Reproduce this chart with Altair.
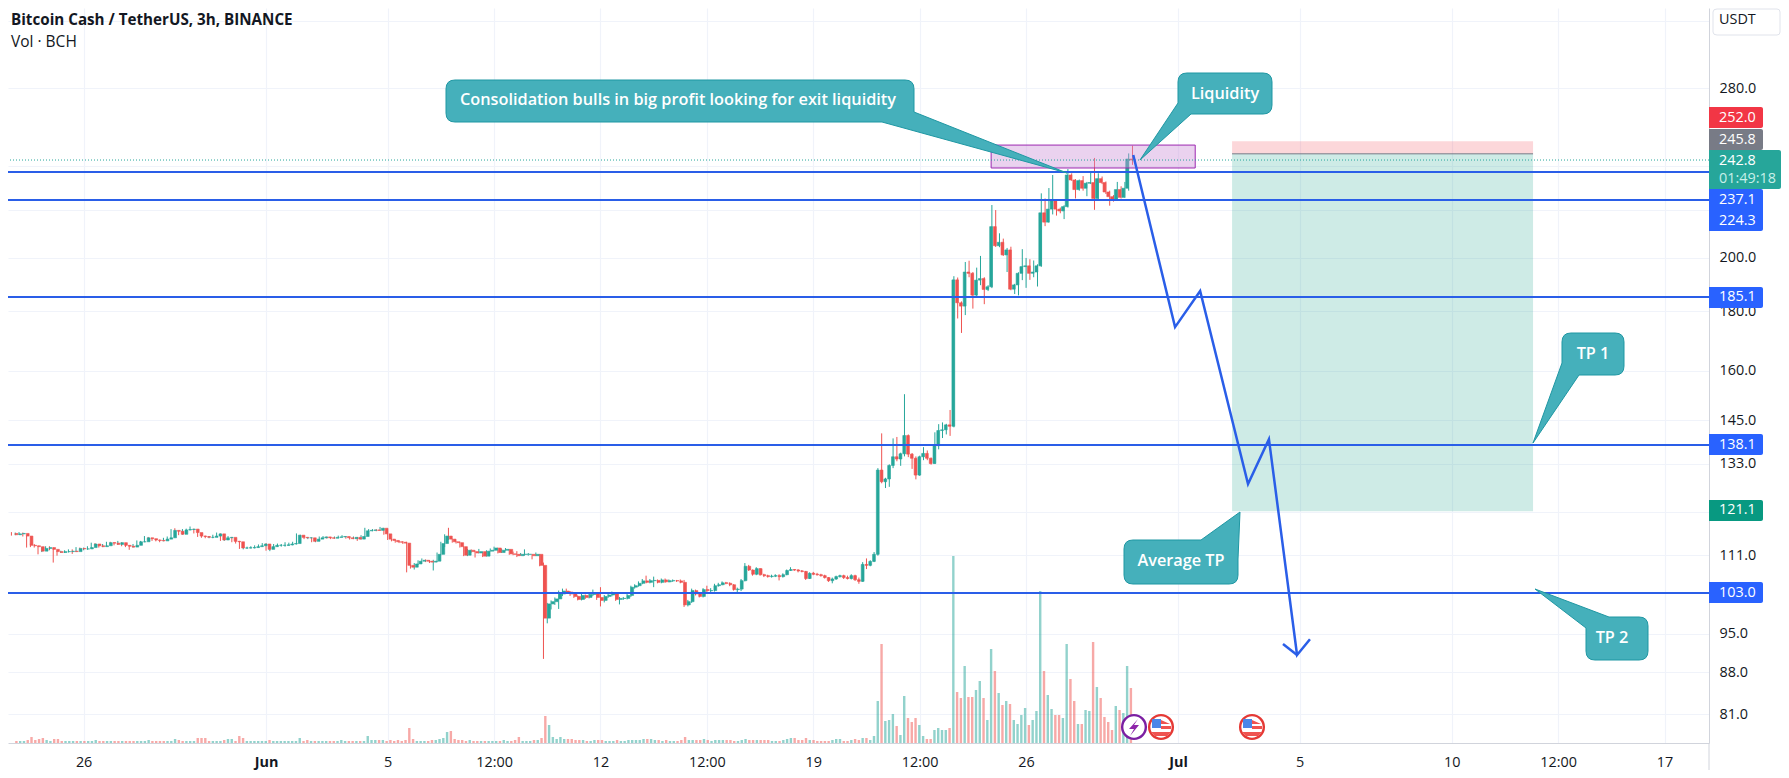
import altair as alt
import pandas as pd

FONT = "Open Sans"
UP, DOWN = "#26a69a", "#ef5350"
BLUE = "#2962ff"
LINE = "#2a5ee8"

first_bar = -67  # bars counted in 3h steps from 1 Jun 00:00 UTC
closes = [
115.6,115.8,115.9,115.3,113.2,113.1,112.9,111.9,112.5,112.7,112.3,111.8,111.6,111.8,111.8,111.9,111.8,112.5,112.4,112.4,
112.7,113.5,113.1,112.9,113.1,113.8,113.7,113.4,113.8,113.2,113.0,112.8,113.2,114.0,114.0,114.9,114.7,114.4,114.3,114.2,
114.6,114.9,116.6,116.4,115.7,116.7,116.8,116.9,116.1,115.3,115.2,115.0,115.0,115.3,115.8,114.4,114.9,115.0,114.1,114.0,
112.6,112.6,112.65,112.7,112.9,113.1,113.5,112.3,112.9,113.2,113.2,113.2,113.3,113.5,113.6,115.5,115.0,114.9,114.9,114.1,
114.6,114.9,115.1,114.9,114.8,115.0,115.1,115.2,114.9,114.7,115.0,114.6,115.2,116.5,116.6,116.7,116.6,117.1,115.8,114.6,
114.3,114.0,113.9,113.7,108.8,108.4,109.1,109.7,109.9,109.7,109.5,109.7,111.2,113.6,115.3,114.6,114.0,113.8,112.9,111.0,
112.1,111.8,111.5,111.8,110.8,111.9,112.1,112.6,111.6,112.1,112.3,111.3,111.2,110.9,111.2,111.2,111.2,110.9,111.2,108.8,
98.0,100.8,101.25,101.8,102.8,103.4,103.2,102.8,102.3,101.7,102.5,102.1,102.7,103.0,102.1,101.5,102.3,102.6,102.8,101.7,
101.9,101.9,102.5,104.2,104.5,105.0,105.5,105.2,105.55,105.6,105.2,105.7,105.3,105.55,105.55,105.5,105.2,100.6,101.25,103.5,
102.8,102.3,103.7,103.5,103.5,104.5,104.7,105.1,105.0,104.7,103.7,103.8,105.55,108.6,107.8,106.9,108.1,106.8,106.6,106.4,
106.5,106.6,106.4,106.8,107.7,107.9,107.8,107.6,107.5,106.0,107.1,106.9,106.8,106.6,106.2,105.55,105.9,106.4,106.6,106.2,
106.0,106.6,105.75,105.4,109.0,108.8,109.65,111.2,131.4,128.4,129.1,132.6,134.9,134.3,135.7,140.7,135.6,134.5,130.1,134.9,
135.8,134.5,133.1,137.9,142.1,142.3,143.7,143.3,191.5,183.0,181.8,194.5,194.0,185.8,191.4,192.0,187.9,188.9,212.8,204.9,
206.3,201.2,203.2,188.0,189.6,194.0,196.6,196.9,194.0,194.5,196.9,218.7,214.7,220.3,223.9,220.3,219.5,221.4,235.7,233.4,
229.0,233.1,229.6,231.9,232.2,225.0,234.0,232.2,227.9,225.8,224.6,229.0,225.5,229.6,243.3,242.8,
]
highs = [
116.2,116.1,116.2,116.1,115.4,113.6,113.5,113.1,112.8,113.0,113.0,112.7,111.9,112.0,112.1,112.3,112.3,112.8,112.7,112.7,
113.0,113.8,113.7,113.3,113.5,114.0,114.0,113.9,114.2,113.9,113.4,113.2,113.5,114.3,114.2,115.3,115.1,114.9,114.6,114.5,
114.9,115.2,116.9,117.1,116.5,116.9,117.0,117.5,117.0,116.2,115.5,115.4,115.3,115.6,116.1,115.9,115.2,115.3,115.1,114.6,
114.2,113.0,112.9,113.0,113.2,113.4,113.7,113.7,113.2,113.5,113.6,113.5,113.9,113.8,114.0,115.9,115.6,115.2,115.1,115.0,
114.8,115.2,115.3,115.2,115.1,115.2,115.4,115.5,115.3,115.0,115.2,115.1,115.5,117.2,116.9,116.9,116.9,117.4,117.2,115.9,
114.7,114.4,114.2,114.1,114.0,109.0,109.3,109.9,110.3,110.1,109.9,110.0,111.6,114.0,115.7,117.2,114.7,114.2,114.0,113.0,
112.4,112.3,112.0,112.4,111.8,112.1,112.5,112.9,112.7,112.4,112.6,112.4,111.8,111.9,111.5,112.3,111.5,111.3,111.6,111.3,
109.4,101.0,101.5,102.1,103.5,103.9,103.9,103.4,103.0,102.5,102.8,102.7,103.0,103.7,103.2,104.2,102.6,103.0,103.3,103.0,
102.2,102.2,102.8,104.5,104.8,105.4,105.9,106.6,105.9,106.4,105.8,106.0,106.0,105.8,105.8,105.7,105.8,105.7,101.6,103.9,
103.7,102.9,104.0,104.5,104.0,104.9,105.1,105.4,105.3,105.2,104.8,104.1,105.9,109.3,108.9,107.9,108.4,108.2,107.0,106.8,
106.8,106.9,106.9,107.1,107.9,108.4,108.0,108.0,107.8,107.6,107.3,107.4,107.2,107.0,106.8,106.3,106.2,106.6,106.8,106.8,
106.6,106.9,106.8,106.2,109.5,110.3,109.9,111.7,131.9,141.3,129.4,132.9,139.9,140.3,136.0,152.7,141.0,135.9,135.0,135.2,
137.5,136.6,134.7,141.6,143.9,144.4,144.0,148.0,192.9,192.4,183.5,198.4,198.9,194.5,196.2,200.8,192.5,189.5,222.1,219.9,
210.0,207.8,204.0,204.5,190.0,194.4,203.5,200.0,199.5,199.0,197.5,227.3,225.0,229.7,235.7,224.5,221.0,222.0,238.5,236.5,
233.8,233.6,235.2,232.5,237.0,243.8,236.5,235.0,232.7,228.5,226.5,232.5,230.5,232.5,246.0,249.8,
]
lows = [
115.4,115.5,115.6,115.2,112.7,112.8,112.7,111.2,111.7,112.3,112.1,109.4,110.9,111.5,111.5,111.6,111.3,111.7,112.1,112.1,
112.2,112.6,113.0,112.7,112.8,113.0,113.4,113.2,113.3,113.0,112.8,112.2,112.7,113.1,113.7,113.9,114.4,114.2,114.1,113.9,
114.1,114.4,114.8,116.2,115.5,115.6,116.4,116.6,115.9,115.1,114.9,114.8,114.8,114.8,115.1,114.2,114.2,114.6,113.9,113.6,
112.4,112.3,112.4,112.5,112.5,112.7,112.9,112.0,111.9,112.7,112.9,112.9,112.9,113.1,113.2,113.4,114.8,114.6,114.6,113.9,
113.9,114.4,114.8,114.7,114.6,114.7,114.9,115.0,114.7,114.5,114.6,114.2,114.5,115.1,116.3,116.4,116.4,116.5,115.6,114.4,
114.1,113.8,113.7,113.5,107.3,108.1,107.9,108.9,109.6,109.5,109.3,107.7,109.5,111.0,112.8,114.4,113.8,113.6,112.7,110.8,
110.8,111.6,110.5,111.4,110.6,110.7,111.8,112.0,111.4,111.5,112.0,111.1,111.0,110.6,110.9,110.9,110.9,110.1,110.8,108.6,
90.4,97.0,99.7,100.6,99.8,102.4,102.8,102.4,102.0,101.5,101.5,101.8,101.9,102.4,101.6,100.3,101.1,102.0,102.3,101.4,
100.7,101.6,101.7,102.2,103.9,104.3,104.8,105.0,105.0,104.2,105.0,105.0,105.1,105.2,105.3,105.3,105.0,100.2,100.3,101.0,
102.5,102.1,102.1,103.2,103.2,103.3,104.3,104.6,104.8,104.4,103.5,102.8,103.4,105.4,107.6,106.6,106.7,106.6,106.3,106.2,
106.2,106.3,105.6,106.2,106.7,107.6,107.6,107.3,107.3,105.7,105.9,106.7,106.6,106.4,106.0,105.3,105.0,105.7,106.2,105.9,
105.8,105.8,105.5,104.9,105.3,108.0,108.6,109.5,110.9,128.0,126.8,127.1,131.9,133.7,132.5,135.0,134.8,131.7,129.0,129.9,
134.0,134.0,132.8,133.0,136.9,140.0,141.0,140.6,143.0,177.4,172.4,178.6,192.5,180.9,185.2,189.5,182.5,187.3,188.4,204.4,
204.3,200.8,194.5,187.6,186.2,185.7,191.4,188.5,191.5,192.5,189.0,196.5,213.0,214.5,218.0,217.5,218.5,216.0,221.0,233.0,
225.0,228.5,228.5,226.0,231.5,220.0,224.6,231.5,227.0,221.8,223.6,224.3,225.0,225.3,228.5,240.5,
]
volumes = [
2,2,2,3,6,3,4,5,3,2, 4,4,2,2,2,2,2,2,2,2, 2,3,2,2,2,2,2,2,2,2, 2,2,2,2,2,3,2,2,2,2,
2,2,4,3,2,2,2,2,5,5, 5,2,2,2,2,3,4,4,2,7, 5,2,2,2,2,2,2,3,2,2, 2,2,2,2,2,5,2,3,2,2,
2,2,2,2,2,2,3,2,2,2, 2,2,2,7,3,3,3,3,2,3, 2,3,2,3,15,4,2,2,2,2, 3,3,4,5,11,12,4,3,3,2,
3,2,2,2,2,2,2,2,2,3, 2,2,3,6,2,2,2,3,3,5, 27,18,6,4,6,4,4,4,3,3, 3,2,2,3,3,3,2,2,2,3,
2,2,3,3,3,3,4,4,4,3, 3,2,3,2,2,2,3,6,3,3, 3,3,4,3,2,3,3,3,3,3, 2,2,3,4,3,3,3,3,3,3,
2,2,2,3,4,5,5,3,3,5, 3,3,2,2,2,2,3,4,4,2, 2,3,4,3,5,5,3,7,42,99,
22,23,29,17,8,47,25,21,25,18,7,4,4,13,15,13,13,15,187,51,45,77,46,46,53,62,45,23,94,72,
50,38,42,39,23,19,28,35,18,23,32,152,72,48,34,28,28,25,99,64,42,19,19,33,32,101,56,45,26,21,13,37,33,30,77,55,
]

h_levels = [237.1, 224.3, 185.1, 138.1, 103.0]
y_ticks = [320, 280, 240, 220, 200, 180, 160, 145, 133, 121, 111, 103, 95, 88, 81]
x_tick_days = ["2023-05-26", "2023-06-01", "2023-06-05", "2023-06-08T12:00", "2023-06-12", "2023-06-15T12:00",
               "2023-06-19", "2023-06-22T12:00", "2023-06-26", "2023-07-01", "2023-07-05", "2023-07-10",
               "2023-07-13T12:00", "2023-07-17"]
path_bars = [228.2, 239.2, 245.8, 258.4, 263.9, 271.3, 274.7]
path_prices = [245.2, 174.4, 187.3, 127.8, 139.7, 91.1, 94.0]
barb_bars = [267.6, 271.3]
barb_prices = [93.1, 91.1]

BASE = pd.Timestamp("2023-06-01T00:00:00Z")
def when(bar):
    return (BASE + pd.Timedelta(hours=3 * bar)).strftime("%Y-%m-%dT%H:%M:%SZ")
def ms(ts):
    return int(pd.Timestamp(ts, tz="UTC").value // 10**6)

xdom = [int((BASE + pd.Timedelta(hours=3 * -67.9)).value // 10**6),
        int((BASE + pd.Timedelta(hours=3 * 379.7)).value // 10**6)]
xs = alt.Scale(type="utc", domain=xdom, nice=False)
ys = alt.Scale(type="log", domain=[76.53, 328.1], nice=False)
X = lambda f: alt.X(f, type="temporal", scale=xs, axis=None, title=None)
Y = lambda f: alt.Y(f, type="quantitative", scale=ys, axis=None, title=None)

opens = [closes[0] + 0.3] + closes[:-1]
df = pd.DataFrame({
    "t": [when(first_bar + k) for k in range(len(closes))],
    "open": opens, "close": closes, "high": highs, "low": lows, "vol": volumes,
})
dir_color = alt.condition("datum.close >= datum.open", alt.value(UP), alt.value(DOWN))
one = pd.DataFrame({"a": [0]})

# ---- axes + position tool
zone = pd.DataFrame({"t0": [when(254.2)], "t1": [when(333.4)], "p0": [245.8], "p1": [252.0]})
x_axis = alt.Axis(values=[ms(v) for v in x_tick_days], grid=True, gridColor="#f0f3fa", gridWidth=1.2, ticks=False,
    domainColor="#d1d4dc", labelColor="#131722", labelFontSize=14.4, labelFont=FONT, labelPadding=12,
    labelOverlap=False, labelBound=False, labelFlush=False, title=None,
    labelExpr="utchours(datum.value)==12?'12:00':utcdate(datum.value)==1?utcFormat(datum.value,'%b'):utcFormat(datum.value,'%-d')",
    labelFontWeight={"condition": {"test": "utcdate(datum.value)==1", "value": "bold"}, "value": "normal"})
y_axis = alt.Axis(orient="right", values=y_ticks, grid=True, gridColor="#f0f3fa", gridWidth=1.2,
    labelExpr="indexof([320,240,220,121,103],datum.value)>=0?'':format(datum.value,'.1f')",
    ticks=False, domainColor="#d1d4dc", labelColor="#131722", labelFontSize=14.4, labelFont=FONT, labelPadding=10,
    labelOverlap=False, labelBound=False, labelFlush=False, title=None)
red_zone = alt.Chart(zone).mark_rect(color="#f23645", opacity=0.2).encode(
    x=alt.X("t0:T", scale=xs, axis=x_axis, title=None), x2="t1:T",
    y=alt.Y("p0:Q", scale=ys, axis=y_axis, title=None), y2="p1:Q")
green_zone = alt.Chart(pd.DataFrame({"t0": [when(254.2)], "t1": [when(333.4)], "p0": [121.1], "p1": [245.8]})
    ).mark_rect(color="#089981", opacity=0.2).encode(x=X("t0"), x2="t1:T", y=Y("p0"), y2="p1:Q")
entry = alt.Chart(zone).mark_rule(color="#787b86", strokeWidth=1).encode(x=X("t0"), x2="t1:T", y=Y("p0"))

# ---- volume (own scale; one unit is one pixel of pane height)
vol = alt.Chart(df).mark_bar(size=2.4, opacity=0.5).encode(
    x=X("t"), y=alt.Y("vol:Q", scale=alt.Scale(domain=[0, 735], nice=False), axis=None, title=None), color=dir_color)

# ---- candles
wick = alt.Chart(df).mark_rule(strokeWidth=1).encode(x=X("t"), y=Y("low"), y2="high:Q", color=dir_color)
body = alt.Chart(df).mark_bar(size=2.8, strokeWidth=0.6).encode(
    x=X("t"), y=Y("open"), y2="close:Q", color=dir_color, stroke=dir_color)

# ---- purple consolidation box
box = alt.Chart(pd.DataFrame({"t0": [when(190.8)], "t1": [when(244.5)], "p0": [239.0], "p1": [250.1]})).mark_rect(
    fill="#ce93d8", fillOpacity=0.42, stroke="#9c27b0", strokeWidth=1).encode(x=X("t0"), x2="t1:T", y=Y("p0"), y2="p1:Q")

# ---- horizontal levels
levels = alt.Chart(pd.DataFrame({"p": h_levels})).mark_rule(color=LINE, strokeWidth=2).encode(y=Y("p"))
last_line = alt.Chart(pd.DataFrame({"p": [closes[-1]]})).mark_rule(color=UP, strokeWidth=1, strokeDash=[1, 2]).encode(y=Y("p"))

# ---- projected path
path_df = pd.DataFrame({"t": [when(b) for b in path_bars], "p": path_prices, "n": range(len(path_bars))})
barb_df = pd.DataFrame({"t": [when(b) for b in barb_bars], "p": barb_prices, "n": range(len(barb_bars))})
path_line = alt.Chart(path_df).mark_line(color=LINE, strokeWidth=2.5).encode(x=X("t"), y=Y("p"), order="n:Q")
barb_line = alt.Chart(barb_df).mark_line(color=LINE, strokeWidth=2.5).encode(x=X("t"), y=Y("p"), order="n:Q")

OX, OY = 8, 8  # page position of the plot area

def txt(s, x, y, size=14.4, color="#131722", weight="normal", align="left"):
    return alt.Chart(one).mark_text(text=s, font=FONT, fontSize=size, color=color, fontWeight=weight, align=align,
        baseline="middle").encode(x=alt.value(x - OX), y=alt.value(y - OY))

def shape(path, **kw):
    return alt.Chart(one).mark_point(shape=path, size=4, filled=True, opacity=1, **kw).encode(
        x=alt.value(0), y=alt.value(0))

def callout(x0, y0, x1, y1, corner, a, tip, b, r=9):
    # clockwise round the box; the tail replaces the named corner
    P = lambda x, y: f"{x - OX:.1f},{y - OY:.1f}"
    tail = f"L{P(*a)} L{P(*tip)} L{P(*b)} "
    s = f"M{P(x0 + r, y0)} " if corner != "tl" else f"M{P(*b)} "
    s += tail if corner == "tr" else f"L{P(x1 - r, y0)} Q{P(x1, y0)} {P(x1, y0 + r)} "
    s += tail if corner == "br" else f"L{P(x1, y1 - r)} Q{P(x1, y1)} {P(x1 - r, y1)} "
    s += tail if corner == "bl" else f"L{P(x0 + r, y1)} Q{P(x0, y1)} {P(x0, y1 - r)} "
    if corner == "tl":
        s += f"L{P(*a)} L{P(*tip)} Z"
    else:
        s += f"L{P(x0, y0 + r)} Q{P(x0, y0)} {P(x0 + r, y0)} Z"
    return shape(s, fill="#45b0bb", stroke="#1f97a3", strokeWidth=1)

notes = [
    callout(446, 80, 914, 122, "br", (914, 112), (1067, 173), (882, 122)),
    callout(1178, 73, 1272, 114, "bl", (1191, 114), (1140, 160), (1178, 103)),
    callout(1562, 333, 1624, 375, "bl", (1579, 375), (1533, 443), (1562, 363)),
    callout(1124, 540, 1238, 584, "tr", (1201, 540), (1240, 512), (1238, 559)),
    callout(1586, 617, 1648, 660, "tl", (1586, 628), (1535, 589), (1609, 617)),
    txt("Consolidation bulls in big profit looking for exit liquidity", 678, 100, 16.3, "white", 600, "center"),
    txt("Liquidity", 1225, 94, 16.3, "white", 600, "center"),
    txt("TP 1", 1593, 354, 16.3, "white", 600, "center"),
    txt("Average TP", 1181, 561, 16.3, "white", 600, "center"),
    txt("TP 2", 1612, 638, 16.3, "white", 600, "center"),
]

# ---- price tags on the axis
def tag(x1, y0, y1, color):
    return alt.Chart(one).mark_rect(color=color, cornerRadiusTopRight=2, cornerRadiusBottomRight=2).encode(
        x=alt.value(1709 - OX), x2=alt.value(x1 - OX), y=alt.value(y0 - OY), y2=alt.value(y1 - OY))
tags = [
    tag(1763, 107, 128, "#f23645"), tag(1763, 129, 150, "#787b86"), tag(1781, 150, 189, "#26a69a"),
    tag(1763, 189, 231, BLUE), tag(1763, 287, 308, BLUE), tag(1763, 434, 455, BLUE),
    tag(1763, 500, 521, "#089981"), tag(1763, 582, 603, BLUE),
]
tag_text = [("252.0", 118), ("245.8", 140), ("242.8", 161), ("237.1", 200), ("224.3", 221),
            ("185.1", 297), ("138.1", 445), ("121.1", 510), ("103.0", 593)]
tags += [txt(s, 1719, y, color="white") for s, y in tag_text]
tags += [txt("01:49:18", 1719, 179, color="#c8efe9")]

# ---- USDT button
usdt = shape("M1705,4 Q1705,1 1709,1 L1769,1 Q1772,1 1772,4 L1772,24 Q1772,27 1769,27 L1709,27 Q1705,27 1705,24 Z",
    fill="white", stroke="#e0e3eb", strokeWidth=1)

# ---- header
header = [
    txt("Bitcoin Cash / TetherUS, 3h, BINANCE", 11, 20, 15.2, "#131722", 700),
    txt("Vol · BCH", 11, 42, 15.5, "#131722"),
    txt("USDT", 1719, 20, 14.4),
]

# ---- event icons
def circle(x, y, color):
    return alt.Chart(one).mark_point(shape="circle", size=560, filled=True, fill="white", stroke=color, strokeWidth=2.4,
        opacity=1).encode(x=alt.value(x - OX), y=alt.value(y - OY))
def flag(cx, cy):
    Q = lambda x, y: f"{cx + x - OX:.1f},{cy + y - OY:.1f}"
    blue = f"M{Q(-9, -8)} L{Q(0, -8)} L{Q(0, 1)} L{Q(-9, 1)} Z"
    red = (f"M{Q(0, -7)} L{Q(9, -3)} L{Q(0, -3)} Z M{Q(0, -1)} L{Q(10, -1)} L{Q(10, 2)} L{Q(0, 2)} Z "
           f"M{Q(-10, 5)} L{Q(10, 5)} L{Q(6, 9)} L{Q(-6, 9)} Z")
    return [circle(cx, cy, "#e53935"), shape(blue, fill="#4a86e8"), shape(red, fill="#ef5350")]
bolt = f"M{1138-OX},{719-OY} L{1129-OX},{729-OY} L{1134-OX},{729-OY} L{1130-OX},{736-OY} L{1139-OX},{725-OY} L{1134-OX},{725-OY} Z"
icons = [circle(1134, 727, "#7b1fa2"), shape(bolt, fill="#8e24aa")] + flag(1161, 727) + flag(1252, 727)

# axis line carries on below the pane, as in the reference
axis_tail = alt.Chart(one).mark_rule(color="#d1d4dc", strokeWidth=1).encode(
    x=alt.value(1701), y=alt.value(735), y2=alt.value(762))

chart = alt.layer(
    red_zone, green_zone, entry, vol, wick, body, box, last_line, levels, path_line, barb_line, axis_tail,
    *notes, *icons, *tags, usdt, *header,
).resolve_scale(x="independent", y="independent").properties(
    width=1701, height=735,
    autosize=alt.AutoSizeParams(type="none"),
    padding={"left": 0, "top": 0, "right": 72, "bottom": 27},
    background="white",
).configure_view(strokeWidth=0)

chart.save("out.html", embed_options={"renderer": "svg", "actions": False})
